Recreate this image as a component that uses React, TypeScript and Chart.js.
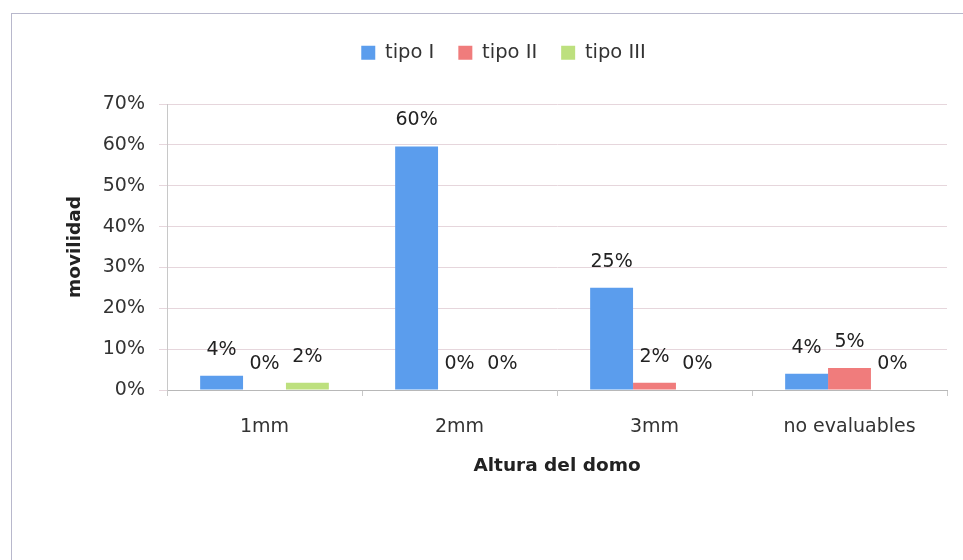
import React, { useEffect, useRef } from "react";
import { Chart, registerables } from "chart.js";

Chart.register(...registerables);

const categories = ["1mm", "2mm", "3mm", "no evaluables"];
const seriesNames = ["tipo I", "tipo II", "tipo III"];
const tipoI = [3.5, 59.6, 25, 4];
const tipoII = [0, 0, 1.8, 5.4];
const tipoIII = [1.8, 0, 0, 0];
const yTicks = [0, 10, 20, 30, 40, 50, 60, 70];
const colors = ["#5b9ded", "#f07c7c", "#bde07e"];

const FONT = "'DejaVu Sans', sans-serif";
const LEGEND_TOP = 19;

const dataLabels = {
  id: "dataLabels",
  afterDatasetsDraw(chart: any) {
    const ctx = chart.ctx;
    ctx.save();
    ctx.font = `19px ${FONT}`;
    ctx.fillStyle = "#222";
    ctx.textAlign = "center";
    ctx.textBaseline = "middle";
    chart.data.datasets.forEach((ds: any, i: number) => {
      const meta = chart.getDatasetMeta(i);
      meta.data.forEach((bar: any, j: number) => {
        const v = ds.data[j];
        ctx.fillText(Math.round(v) + "%", bar.x, bar.y - 26);
      });
    });
    ctx.restore();
  },
};

const legendSpacer = {
  id: "legendSpacer",
  beforeInit(chart: any) {
    const legend = chart.legend;
    const origFit = legend.fit;
    legend.fit = function () {
      origFit.bind(legend)();
      this.height = 104 - LEGEND_TOP;
    };
  },
};

export default function App() {
  const ref = useRef<HTMLCanvasElement>(null);
  useEffect(() => {
    if (!ref.current) return;
    const chart = new Chart(ref.current, {
      type: "bar",
      data: {
        labels: categories,
        datasets: [tipoI, tipoII, tipoIII].map((d, i) => ({
          label: seriesNames[i],
          data: d,
          backgroundColor: colors[i],
          borderWidth: 0,
          barPercentage: 1,
          categoryPercentage: 0.66,
        })),
      },
      options: {
        responsive: false,
        animation: false,
        layout: { padding: { left: 60, top: LEGEND_TOP, right: 16, bottom: 80 } },
        plugins: {
          tooltip: { enabled: false },
          legend: {
            position: "top",
            labels: {
              boxWidth: 14,
              boxHeight: 14,
              padding: 24,
              color: "#333",
              font: { family: FONT, size: 19.5 },
            },
          },
        },
        scales: {
          x: {
            grid: {
              display: true,
              offset: true,
              drawOnChartArea: false,
              drawTicks: true,
              tickLength: 6,
              color: "#c8c8c8",
            },
            border: { display: true, color: "#b8b8b8" },
            ticks: {
              color: "#333",
              font: { family: FONT, size: 19 },
              padding: 20,
              maxRotation: 0,
            },
            title: {
              display: true,
              text: "Altura del domo",
              color: "#222",
              font: { family: FONT, size: 18.5, weight: "bold" },
              padding: { top: 0, bottom: 3 },
            },
            afterFit(scale: any) {
              scale.height = 480 - 390;
            },
          },
          y: {
            min: 0,
            max: 70,
            afterBuildTicks(scale: any) {
              scale.ticks = yTicks.map((v) => ({ value: v }));
            },
            grid: {
              color: "#e6d6dc",
              tickLength: 8,
              drawTicks: true,
            },
            border: { display: true, color: "#c8c8c8" },
            ticks: {
              color: "#333",
              font: { family: FONT, size: 19 },
              padding: 14,
              callback: (v: any) => v + "%",
            },
            title: {
              display: true,
              text: "movilidad",
              color: "#222",
              font: { family: FONT, size: 18.5, weight: "bold" },
              padding: { top: 4, bottom: 0 },
            },
            afterFit(scale: any) {
              scale.width = 167 - 60;
            },
          },
        },
      },
      plugins: [dataLabels, legendSpacer],
    });
    return () => chart.destroy();
  }, []);

  return (
    <div style={{ position: "absolute", left: 0, top: 0, width: 963, height: 560, background: "#fff" }}>
      <div
        style={{
          position: "absolute",
          left: 11,
          top: 13,
          width: 963 - 11,
          height: 560 - 13,
          borderLeft: "1px solid #b8b8cc",
          borderTop: "1px solid #b8b8cc",
          boxSizing: "border-box",
        }}
      />
      <canvas ref={ref} width={963} height={560} style={{ position: "absolute", left: 0, top: 0 }} />
    </div>
  );
}
